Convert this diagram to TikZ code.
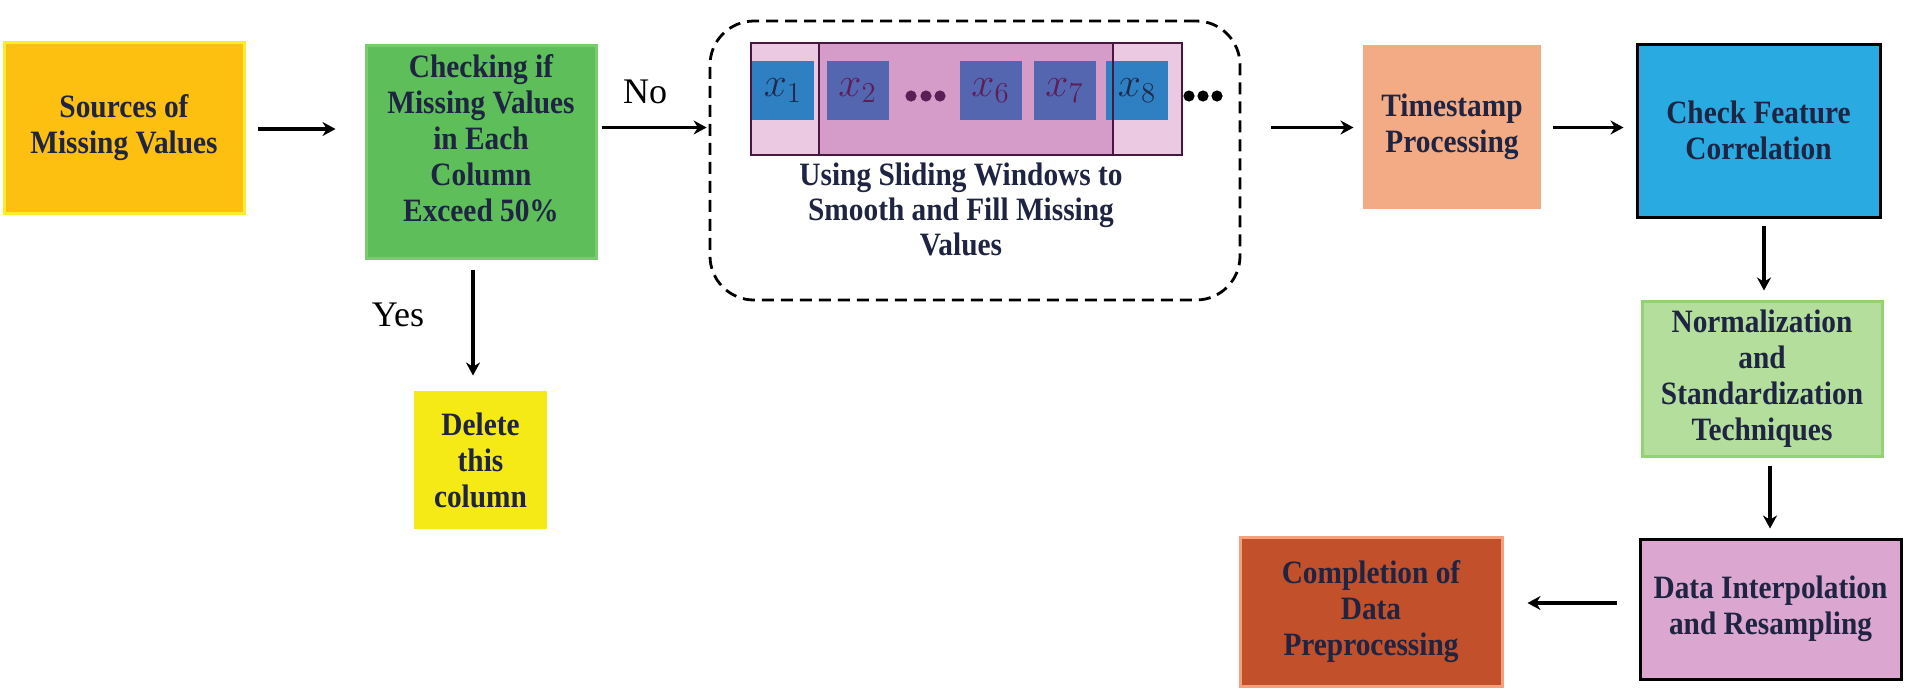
\documentclass[tikz,border=0pt]{standalone}
\usepackage{fontspec}
\setmainfont{Liberation Serif}
\newfontfamily\boxfont{Liberation Serif}[FakeStretch=0.9]
\usetikzlibrary{arrows.meta}

\definecolor{txtnavy}{HTML}{1E2441}
\definecolor{srcfill}{HTML}{FDC010}
\definecolor{srcline}{HTML}{F9EE2B}
\definecolor{chkfill}{HTML}{5DBE5A}
\definecolor{chkline}{HTML}{7ACB70}
\definecolor{delfill}{HTML}{F6EA16}
\definecolor{tsfill}{HTML}{F2AB84}
\definecolor{cfcfill}{HTML}{29ABE2}
\definecolor{normfill}{HTML}{B4DE9C}
\definecolor{normline}{HTML}{92D274}
\definecolor{interpfill}{HTML}{DBA6D0}
\definecolor{compfill}{HTML}{C2502A}
\definecolor{compline}{HTML}{F3A07B}
\definecolor{winlight}{HTML}{EBC9E3}
\definecolor{winmid}{HTML}{D59CC9}
\definecolor{winline}{HTML}{48173F}
\definecolor{sqblue}{HTML}{2F80C3}
\definecolor{sqmid}{HTML}{5566B1}
\definecolor{lbnavy}{HTML}{1F2A4F}
\definecolor{lbpurple}{HTML}{5B1E56}

\begin{document}
\begin{tikzpicture}[x=0.5pt, y=-0.5pt,
    box/.style={rectangle, line width=1.5pt, align=center, text=txtnavy, inner sep=0pt,
                font=\boxfont\fontsize{16.3}{18}\selectfont\bfseries},
    arr/.style={->, >={Stealth[length=6.5pt,width=7pt]}, line width=1.6pt},
    sq/.style={rectangle, minimum width=31pt, minimum height=29.5pt, inner sep=0pt,
               font=\fontsize{22}{24}\selectfont},
    yesno/.style={font=\fontsize{18}{20}\selectfont}]
    \useasboundingbox (0,0) rectangle (1906,691);

    % left part
    \node (src) at (124,127.5) [box, fill=srcfill, draw=srcline, minimum width=120pt, minimum height=85.5pt] {Sources of\\Missing Values};
    \node (chk) at (481,151.5) [box, fill=chkfill, draw=chkline, minimum width=115pt, minimum height=106.5pt] {};
    \node (chktxt) at (481,138.5) [box] {Checking if\\Missing Values\\in Each\\Column\\Exceed 50\%};
    \node (del) at (480.5,460) [box, fill=delfill, minimum width=66.5pt, minimum height=69pt] {Delete\\this\\column};
    \node (no) at (645,92) [yesno] {No};
    \node (yes) at (398,315) [yesno] {Yes};

    % sliding window
    \node (win) at (975,160.5) [draw, line width=1.4pt, dash pattern=on 6pt off 3.5pt, rounded corners=22pt, minimum width=265pt, minimum height=139.5pt] {};
    \fill [winlight] (751,43) rectangle (1182,155);
    \fill [winmid] (819,43) rectangle (1113,155);
    \node (x1) at (783,90.5) [sq, fill=sqblue, text=lbnavy] {$x_1$};
    \node (x2) at (857.5,90.5) [sq, fill=sqmid, text=lbpurple] {$x_2$};
    \node (x6) at (990.5,90.5) [sq, fill=sqmid, text=lbpurple] {$x_6$};
    \node (x7) at (1064.5,90.5) [sq, fill=sqmid, text=lbpurple] {$x_7$};
    \node (x8) at (1137,90.5) [sq, fill=sqblue, text=lbnavy] {$x_8$};
    \draw [winline, line width=1.3pt] (751,43) rectangle (1182,155);
    \draw [winline, line width=1.3pt] (819,43) rectangle (1113,155);
    \fill [lbpurple] (911,96) circle (2.8pt) (926,96) circle (2.8pt) (940,96) circle (2.8pt);
    \fill [black] (1189,96) circle (2.8pt) (1203,96) circle (2.8pt) (1217,96) circle (2.8pt);
    \node (wintxt) at (961,209) [box, font=\boxfont\fontsize{16.3}{17.5}\selectfont\bfseries] {Using Sliding Windows to\\Smooth and Fill Missing\\Values};

    % right part
    \node (ts) at (1452,127) [box, fill=tsfill, minimum width=89pt, minimum height=82pt] {Timestamp\\Processing};
    \node (cfc) at (1758.5,130.5) [box, fill=cfcfill, draw=black, minimum width=121.5pt, minimum height=86.5pt] {Check Feature\\Correlation};
    \node (norm) at (1762,378.5) [box, fill=normfill, draw=normline, minimum width=120pt, minimum height=77.5pt] {Normalization\\and\\Standardization\\Techniques};
    \node (interp) at (1770.5,609) [box, fill=interpfill, draw=black, minimum width=130.5pt, minimum height=70pt] {Data Interpolation\\and Resampling};
    \node (comp) at (1371,611.5) [box, fill=compfill, draw=compline, minimum width=131pt, minimum height=74.5pt] {Completion of\\Data\\Preprocessing};

    % connectors
    \coordinate (rowa) at (0,129);
    \coordinate (rowb) at (0,127.5);
    \coordinate (rowc) at (0,603);
    \coordinate (cola) at (1764,0);
    \coordinate (colb) at (1770,0);
    \coordinate (colc) at (473,0);
    \draw [arr, shorten <=6pt, shorten >=14.5pt] (src.east |- rowa) -- (chk.west |- rowa);
    \draw [arr, shorten <=2pt, shorten >=1pt] (chk.east |- rowb) -- (win.west |- rowb);
    \draw [arr, shorten <=5pt, shorten >=7pt] (chk.south -| colc) -- (del.north -| colc);
    \draw [arr, shorten <=15pt, shorten >=4pt] (win.east |- rowb) -- (ts.west |- rowb);
    \draw [arr, shorten <=5pt, shorten >=6pt] (ts.east |- rowb) -- (cfc.west |- rowb);
    \draw [arr, shorten <=3.5pt, shorten >=4.5pt] (cfc.south -| cola) -- (norm.north -| cola);
    \draw [arr, shorten <=4pt, shorten >=4.5pt] (norm.south -| colb) -- (interp.north -| colb);
    \draw [arr, shorten <=11pt, shorten >=12pt] (interp.west |- rowc) -- (comp.east |- rowc);
\end{tikzpicture}
\end{document}
